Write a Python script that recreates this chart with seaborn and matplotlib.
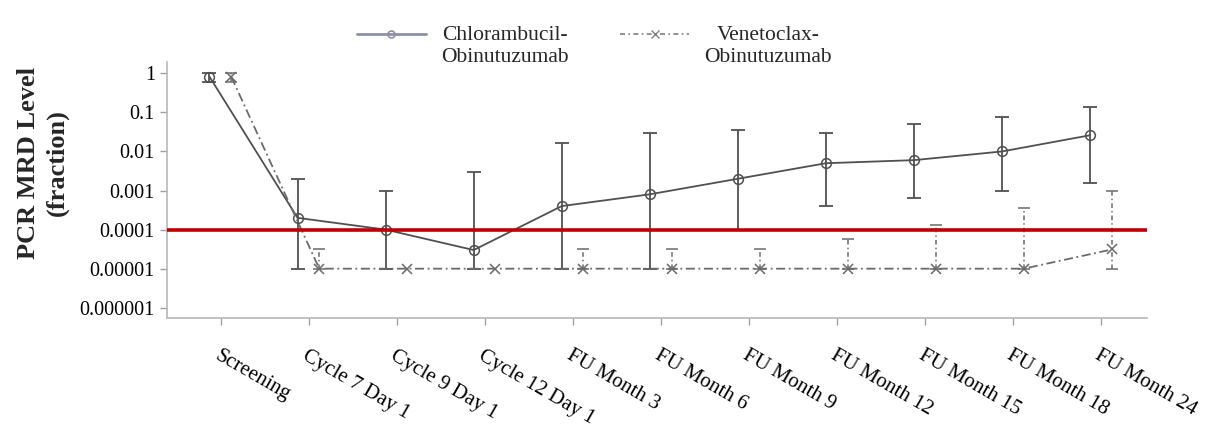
import numpy as np
import pandas as pd
import matplotlib.pyplot as plt
from matplotlib.lines import Line2D
from matplotlib.legend_handler import HandlerLine2D
import seaborn as sns

timepoints = ['Screening', 'Cycle 7 Day 1', 'Cycle 9 Day 1', 'Cycle 12 Day 1',
              'FU Month 3', 'FU Month 6', 'FU Month 9', 'FU Month 12',
              'FU Month 15', 'FU Month 18', 'FU Month 24']

# Chlorambucil-Obinutuzumab
clb_mrd = [0.82, 0.0002, 0.0001, 0.00003, 0.0004, 0.0008, 0.002, 0.005, 0.006, 0.01, 0.026]
clb_low = [0.61, 1e-5, 1e-5, 1e-5, 1e-5, 1e-5, 1e-4, 0.0004, 0.00065, 0.001, 0.0016]
clb_high = [1.0, 0.002, 0.001, 0.003, 0.016, 0.03, 0.035, 0.03, 0.05, 0.076, 0.14]

# Venetoclax-Obinutuzumab
ven_mrd = [0.82, 1e-5, 1e-5, 1e-5, 1e-5, 1e-5, 1e-5, 1e-5, 1e-5, 1e-5, 3.1e-5]
ven_low = [0.61, 1e-5, np.nan, np.nan, 1e-5, 1e-5, 1e-5, 1e-5, 1e-5, 1e-5, 1e-5]
ven_high = [1.0, 3.1e-5, np.nan, np.nan, 3.1e-5, 3.1e-5, 3.1e-5, 5.7e-5, 1.3e-4, 3.5e-4, 1e-3]

threshold = 1e-4
ytick_vals = [1, 0.1, 0.01, 0.001, 0.0001, 0.00001, 0.000001]
ytick_labels = ['1', '0.1', '0.01', '0.001', '0.0001', '0.00001', '0.000001']

sns.set_style('ticks')
plt.rcParams['font.family'] = ['Liberation Serif', 'DejaVu Serif']

idx = np.arange(len(timepoints))
df = pd.concat([
    pd.DataFrame({'regimen': 'Chlorambucil-Obinutuzumab', 'pos': idx - 0.127, 'mrd': clb_mrd}),
    pd.DataFrame({'regimen': 'Venetoclax-Obinutuzumab', 'pos': idx + 0.12, 'mrd': ven_mrd}),
])

fig, ax = plt.subplots(figsize=(12.13, 4.26), dpi=100)
fig.subplots_adjust(left=166.7/1213, right=1147/1213, bottom=1-318.3/426, top=1-62/426)
ax.set_yscale('log')

sns.lineplot(data=df, x='pos', y='mrd', hue='regimen', style='regimen',
             palette=['#505050', '#6a6a6a'],
             dashes={'Chlorambucil-Obinutuzumab': '', 'Venetoclax-Obinutuzumab': (5, 2, 1, 2)},
             markers={'Chlorambucil-Obinutuzumab': 'o', 'Venetoclax-Obinutuzumab': 'X'},
             markersize=7, markerfacecolor='none', markeredgecolor='#505050',
             markeredgewidth=1.1, linewidth=1.3, legend=False, ax=ax, zorder=4)

# thin x marker for venetoclax
for ln in ax.lines:
    if ln.get_marker() == 'X':
        ln.set_marker('x')
        ln.set_markeredgecolor('#6a6a6a')

# error bars
clb_mrd_a, clb_low_a, clb_high_a = map(np.array, (clb_mrd, clb_low, clb_high))
ax.errorbar(idx - 0.127, clb_mrd_a, yerr=[clb_mrd_a - clb_low_a, clb_high_a - clb_mrd_a],
            fmt='none', ecolor='#505050', elinewidth=1.3, capsize=5, capthick=1.3, zorder=3)

ven_mrd_a, ven_low_a, ven_high_a = map(np.array, (ven_mrd, ven_low, ven_high))
m = ~np.isnan(ven_high_a)
eb = ax.errorbar((idx + 0.12)[m], ven_mrd_a[m],
                 yerr=[(ven_mrd_a - ven_low_a)[m], (ven_high_a - ven_mrd_a)[m]],
                 fmt='none', ecolor='#6a6a6a', elinewidth=1.1, capsize=4.5, capthick=1.1, zorder=3)
eb[2][0].set_linestyle((0, (3, 2, 1, 2)))

ax.axhline(threshold, color='#c00000', lw=2.6, zorder=5)

ax.set_xlim(-0.613, 10.52)
ax.set_ylim(10 ** -6.27, 10 ** 0.29)
ax.set_yticks(ytick_vals)
ax.set_yticklabels(ytick_labels, fontsize=14.5)
ax.yaxis.set_minor_locator(plt.NullLocator())
ax.set_xticks(idx)
ax.set_xticklabels(timepoints, fontsize=15, rotation=-30, ha='left', va='top',
                   rotation_mode='anchor')

ax.set_xlabel('')
ax.set_ylabel('')
sns.despine(ax=ax)
for sp in ['left', 'bottom']:
    ax.spines[sp].set_color('#b8b8b8')
    ax.spines[sp].set_linewidth(1.2)
ax.tick_params(axis='both', colors='#a0a0a0', labelcolor='black', length=5, width=1)
ax.tick_params(axis='x', pad=15)

fig.text(43/1213, 1 - 163/426, 'PCR MRD Level\n(fraction)', rotation=90,
         ha='center', va='center', multialignment='center',
         fontsize=19, fontweight='bold', linespacing=1.3)


class RaisedLine(HandlerLine2D):
    # legend handle sits level with the first text line
    def create_artists(self, *args, **kwargs):
        arts = super().create_artists(*args, **kwargs)
        for a in arts:
            a.set_ydata(np.asarray(a.get_ydata()) + 9)
        return arts


handles = [
    Line2D([], [], color='#8c90a4', lw=2, marker='o', ms=5, mfc='none', mew=1.2),
    Line2D([], [], color='#808080', lw=1.2, ls=(0, (3, 2, 1, 2)), marker='x', ms=6),
]
leg = fig.legend(handles, ['Chlorambucil-\nObinutuzumab', 'Venetoclax-\nObinutuzumab'],
                 loc='center', bbox_to_anchor=(0.49, 0.89), ncol=2, frameon=False,
                 fontsize=15.5, handlelength=3.2, handletextpad=0.7, columnspacing=2.4,
                 handler_map={Line2D: RaisedLine()})
for t in leg.get_texts():
    t.set_multialignment('center')

fig.savefig('out.png', dpi=100)
